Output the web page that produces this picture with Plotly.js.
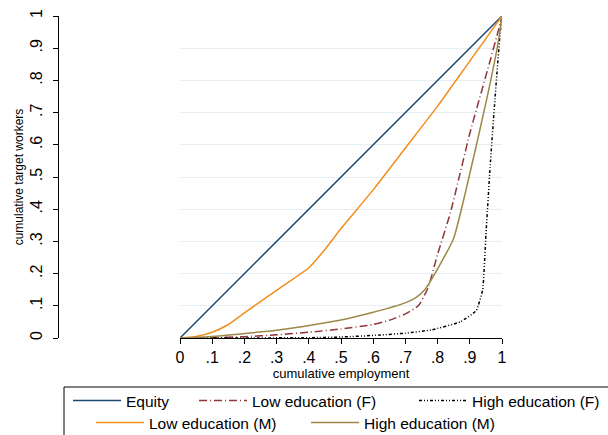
<!DOCTYPE html>
<html>
<head>
<meta charset="utf-8">
<script src="https://cdn.plot.ly/plotly-3.0.1.min.js"></script>
<style>html,body{margin:0;padding:0;background:#fff;}#chart{width:608px;height:435px;}</style>
</head>
<body>
<div id="chart"></div>
<script>
// Data
var equityX = [0, 1];
var equityY = [0, 1];

var lowMX = [0, 0.05, 0.1, 0.15, 0.2, 0.3, 0.4, 0.45, 0.5, 0.6, 0.7, 0.8, 0.9, 1];
var lowMY = [0, 0.005, 0.018, 0.042, 0.078, 0.148, 0.218, 0.275, 0.34, 0.46, 0.59, 0.72, 0.86, 1];

var lowFX = [0, 0.1, 0.2, 0.3, 0.4, 0.5, 0.6, 0.65, 0.7, 0.74, 0.77, 0.8, 0.84, 0.9, 0.96, 0.99, 1];
var lowFY = [0, 0.001, 0.004, 0.01, 0.018, 0.028, 0.042, 0.055, 0.075, 0.1, 0.155, 0.26, 0.39, 0.635, 0.85, 0.96, 1];

var highMX = [0, 0.1, 0.18, 0.3, 0.42, 0.5, 0.6, 0.69, 0.73, 0.76, 0.8, 0.85, 0.9, 0.95, 0.985, 1];
var highMY = [0, 0.005, 0.012, 0.024, 0.042, 0.056, 0.08, 0.106, 0.124, 0.15, 0.215, 0.31, 0.51, 0.73, 0.9, 1];

var highFX = [0, 0.2, 0.4, 0.5, 0.62, 0.7, 0.78, 0.87, 0.92, 0.94, 0.95, 0.963, 0.978, 0.994, 1];
var highFY = [0, 0, 0.001, 0.003, 0.009, 0.015, 0.025, 0.05, 0.085, 0.15, 0.32, 0.53, 0.74, 0.945, 1];

var tickVals = [0, 0.1, 0.2, 0.3, 0.4, 0.5, 0.6, 0.7, 0.8, 0.9, 1];
var tickText = ["0", ".1", ".2", ".3", ".4", ".5", ".6", ".7", ".8", ".9", "1"];

var names = ["Equity", "Low education (F)", "High education (F)", "Low education (M)", "High education (M)"];

var W = 608, H = 435;
var FONT = "Liberation Sans, Arial, sans-serif";

var traces = [
  {x: equityX, y: equityY, name: names[0], mode: "lines", line: {color: "#1a476f", width: 1.5}, legend: "legend"},
  {x: lowFX, y: lowFY, name: names[1], mode: "lines", line: {color: "#90353b", width: 1.5, dash: "8px,3px,1px,3px", shape: "spline", smoothing: 0.5}, legend: "legend2"},
  {x: highFX, y: highFY, name: names[2], mode: "lines", line: {color: "#000000", width: 1.5, dash: "3px,2px,1px,2px,1px,2px", shape: "spline", smoothing: 0.4}, legend: "legend3"},
  {x: lowMX, y: lowMY, name: names[3], mode: "lines", line: {color: "#f28e1c", width: 1.5, shape: "spline", smoothing: 0.5}, legend: "legend4"},
  {x: highMX, y: highMY, name: names[4], mode: "lines", line: {color: "#9c8847", width: 1.5, shape: "spline", smoothing: 0.5}, legend: "legend5"}
];

function leg(xStart, yTop, itemW) {
  return {
    orientation: "h", xref: "container", yref: "container",
    x: xStart / W, xanchor: "left", y: 1 - yTop / H, yanchor: "top",
    font: {size: 15.5}, bgcolor: "rgba(0,0,0,0)", borderwidth: 0,
    itemwidth: itemW, itemclick: false
  };
}

var layout = {
  width: W, height: H,
  margin: {l: 58, r: 106, t: 16, b: 97},
  paper_bgcolor: "#fff", plot_bgcolor: "#fff",
  font: {family: FONT, color: "#000", size: 14},
  xaxis: {
    domain: [122/444, 1], range: [0, 1],
    tickvals: tickVals, ticktext: tickText,
    ticks: "outside", ticklen: 5, tickcolor: "#000", tickwidth: 1,
    showline: true, linecolor: "#000", linewidth: 1,
    showgrid: false, zeroline: false,
    tickfont: {size: 16},
    title: {text: "cumulative employment", font: {size: 13}, standoff: 1}
  },
  yaxis: {
    anchor: "free", position: 0, range: [0, 1],
    tickvals: tickVals, ticktext: tickText, tickangle: -90,
    ticks: "outside", ticklen: 5, tickcolor: "#000", tickwidth: 1,
    ticklabelstandoff: 5,
    showline: true, linecolor: "#000", linewidth: 1,
    showgrid: true, gridcolor: "#e6eef0", gridwidth: 1, zeroline: false,
    tickfont: {size: 16},
    title: {text: "cumulative target workers", font: {size: 12}, standoff: 0}
  },
  showlegend: true,
  legend: leg(68, 384, 48),
  legend2: leg(194, 384, 48),
  legend3: leg(414, 384, 48),
  legend4: leg(91, 406, 48),
  legend5: leg(306, 406, 48),
  shapes: [
    {type: "rect", xref: "paper", yref: "paper",
     x0: (64 - 58)/444, x1: (620 - 58)/444,
     y0: (338 - 440)/322, y1: (338 - 387)/322,
     line: {color: "#000", width: 1}, fillcolor: "rgba(0,0,0,0)", layer: "below"}
  ]
};

Plotly.newPlot("chart", traces, layout, {staticPlot: true, displayModeBar: false});
</script>
</body>
</html>
